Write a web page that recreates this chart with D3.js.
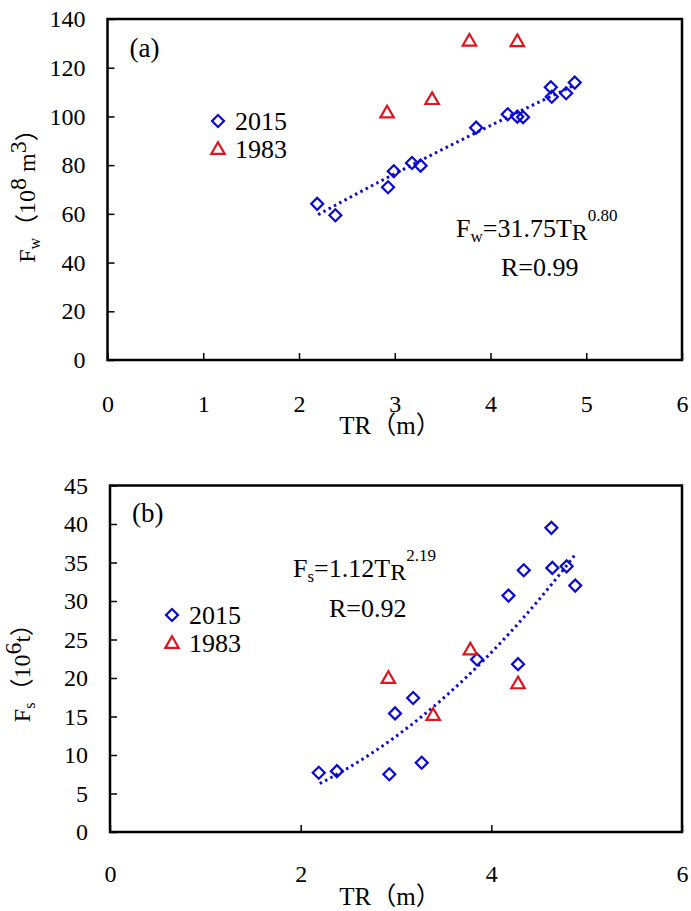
<!DOCTYPE html>
<html>
<head>
<meta charset="utf-8">
<script src="https://cdn.jsdelivr.net/npm/d3@7"></script>
<style>
body { margin: 0; background: #fff; }
svg { display: block; }
text { font-family: "Liberation Serif", "Times New Roman", "Noto Sans CJK SC", serif; }
</style>
</head>
<body>
<svg width="691" height="911"></svg>
<script>
// TR values (m)
const tr2015 = [2.19, 2.38, 2.93, 2.99, 3.18, 3.27, 3.85, 4.18, 4.28, 4.34, 4.63, 4.64, 4.79, 4.88];
const tr1983 = [2.92, 3.39, 3.78, 4.28];

// panel (a) Fw (10^8 m^3)
const fw2015 = [64.1, 59.4, 70.9, 77.5, 80.9, 79.8, 95.4, 100.9, 99.9, 99.7, 112.0, 108.1, 109.5, 113.9];
const fw1983 = [101.6, 107.1, 131.1, 130.9];

// panel (b) Fs (10^6 t)
const fs2015 = [7.7, 7.9, 7.5, 15.4, 17.4, 9.0, 22.4, 30.7, 21.8, 34.0, 39.5, 34.3, 34.5, 32.0];
const fs1983 = [20.0, 15.2, 23.7, 19.3];

// fitted power curves shown on the chart: F = a * TR^b
const fitA = [31.75, 0.80];
const fitB = [1.12, 2.19];
const fitRange = [2.2, 4.88];

const xTicksA = [0, 1, 2, 3, 4, 5, 6];
const xTicksB = [0, 2, 4, 6];
const yTicksA = [0, 20, 40, 60, 80, 100, 120, 140];
const yTicksB = [0, 5, 10, 15, 20, 25, 30, 35, 40, 45];

const blue = "#0a0acc";
const red = "#e0141e";
const serif = "Liberation Serif, Times New Roman, Noto Sans CJK SC, serif";

const svg = d3.select("svg");

function drawPanel(p) {
    const x = d3.scaleLinear().domain([0, 6]).range([p.left, p.right]);
    const y = d3.scaleLinear().domain(p.yDomain).range([p.bottom, p.top]);
    const g = svg.append("g");

    // x axis, ticks pointing in
    const xa = g.append("g")
        .attr("transform", `translate(0,${p.bottom})`)
        .call(d3.axisBottom(x).tickValues(p.xTicks).tickFormat(d3.format("d"))
            .tickSizeInner(-7).tickSizeOuter(0).tickPadding(p.xPad));
    xa.select(".domain").remove();
    xa.attr("font-family", serif).attr("font-size", 24);
    xa.selectAll("line").attr("stroke-width", 1.5);

    const ya = g.append("g")
        .attr("transform", `translate(${p.left},0)`)
        .call(d3.axisLeft(y).tickValues(p.yTicks).tickFormat(d3.format("d"))
            .tickSizeInner(-7).tickSizeOuter(0).tickPadding(22));
    ya.select(".domain").remove();
    ya.attr("font-family", serif).attr("font-size", 24);
    ya.selectAll("line").attr("stroke-width", 1.5);

    // frame
    g.append("rect")
        .attr("x", p.left).attr("y", p.top)
        .attr("width", p.right - p.left).attr("height", p.bottom - p.top)
        .attr("fill", "none").attr("stroke", "#000").attr("stroke-width", 2.5);

    // trend line
    const fitPts = d3.range(fitRange[0], fitRange[1] + 0.001, 0.02).map(t => [t, p.fit[0] * Math.pow(t, p.fit[1])]);
    g.append("path")
        .datum(fitPts)
        .attr("d", d3.line().x(d => x(d[0])).y(d => y(d[1])))
        .attr("fill", "none").attr("stroke", blue)
        .attr("stroke-width", 3).attr("stroke-dasharray", "2.5,3.5");

    const diamond = d3.symbol().type(d3.symbolSquare).size(72);
    const tri = d3.symbol().type(d3.symbolTriangle).size(78);

    g.selectAll(".d2015")
        .data(tr2015.map((t, i) => [t, p.y2015[i]]))
        .join("path")
        .attr("d", diamond)
        .attr("transform", d => `translate(${x(d[0])},${y(d[1])}) rotate(45)`)
        .attr("fill", "none").attr("stroke", blue).attr("stroke-width", 2.2);

    g.selectAll(".t1983")
        .data(tr1983.map((t, i) => [t, p.y1983[i]]))
        .join("path")
        .attr("d", tri)
        .attr("transform", d => `translate(${x(d[0])},${y(d[1]) + 1})`)
        .attr("fill", "none").attr("stroke", red).attr("stroke-width", 2.2);

    // legend
    const lg = g.append("g");
    lg.append("path").attr("d", diamond)
        .attr("transform", `translate(${p.legX},${p.legY}) rotate(45)`)
        .attr("fill", "none").attr("stroke", blue).attr("stroke-width", 2.2);
    lg.append("text").attr("x", p.legX + 17).attr("y", p.legY + 9)
        .attr("font-size", 26).text("2015");
    lg.append("path").attr("d", tri)
        .attr("transform", `translate(${p.legX},${p.legY + 29})`)
        .attr("fill", "none").attr("stroke", red).attr("stroke-width", 2.2);
    lg.append("text").attr("x", p.legX + 17).attr("y", p.legY + 37)
        .attr("font-size", 26).text("1983");

    // panel letter
    g.append("text").attr("x", p.left + 22).attr("y", p.top + p.letterDy)
        .attr("font-size", 27).text(p.letter);

    // equation
    const eq = g.append("text").attr("x", p.eqX).attr("y", p.eqY).attr("font-size", 26);
    eq.append("tspan").text("F");
    eq.append("tspan").attr("font-size", 17).attr("dy", 5).text(p.sub);
    eq.append("tspan").attr("dy", -5).text(p.eqMid);
    eq.append("tspan").attr("font-size", 24).attr("dy", 3).text("R");
    eq.append("tspan").attr("font-size", 17).attr("dy", -19).text(p.exp);
    g.append("text").attr("x", p.rX).attr("y", p.rY).attr("font-size", 26).text(p.rText);

    // x title
    g.append("text").attr("x", p.xTitleX).attr("y", p.bottom + p.xTitleDy)
        .attr("text-anchor", "middle").attr("font-size", 25)
        .text("TR（m）");

    // y title
    const yt = g.append("text")
        .attr("transform", `translate(${p.yTitleX},${p.yTitleY}) rotate(-90)`)
        .attr("text-anchor", "middle").attr("font-size", 24);
    yt.append("tspan").text("F");
    yt.append("tspan").attr("font-size", 16).attr("dy", 5).text(p.sub);
    yt.append("tspan").attr("dy", -5).text("（10");
    p.yUnit.forEach(u => {
        yt.append("tspan").attr("font-size", u.sup ? 17 : 24).attr("dy", u.dy).text(u.t);
    });
}

drawPanel({
    left: 107.5, right: 682, top: 19, bottom: 360,
    yDomain: [0, 140], xTicks: xTicksA, yTicks: yTicksA, xPad: 35,
    y2015: fw2015, y1983: fw1983, fit: fitA,
    legX: 218, legY: 121, letter: "(a)", letterDy: 38,
    sub: "w", eqMid: "=31.75T", exp: "0.80", eqX: 456, eqY: 237,
    rText: "R=0.99", rX: 501, rY: 276,
    xTitleX: 390, xTitleDy: 74,
    yTitleX: 35, yTitleY: 190,
    yUnit: [{t: "8", dy: -9}, {t: " m", dy: 9}, {t: "3", dy: -9}, {t: "）", dy: 9}]
});

drawPanel({
    left: 110, right: 682, top: 485.5, bottom: 832,
    yDomain: [0, 45], xTicks: xTicksB, yTicks: yTicksB, xPad: 33,
    y2015: fs2015, y1983: fs1983, fit: fitB,
    legX: 172, legY: 615, letter: "(b)", letterDy: 36,
    sub: "s", eqMid: "=1.12T", exp: "2.19", eqX: 293, eqY: 577,
    rText: "R=0.92", rX: 329, rY: 617,
    xTitleX: 390, xTitleDy: 73,
    yTitleX: 30, yTitleY: 667,
    yUnit: [{t: "6", dy: -9}, {t: "t", dy: 9}, {t: "）", dy: 0}]
});
</script>
</body>
</html>
